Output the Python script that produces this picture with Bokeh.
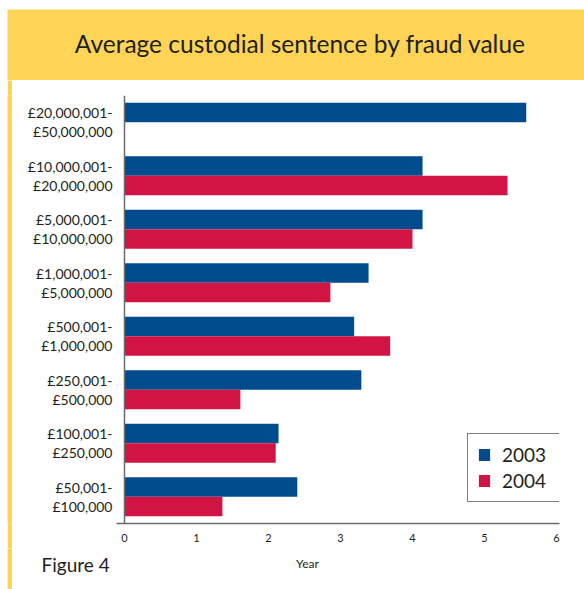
from bokeh.plotting import figure
from bokeh.layouts import column, row
from bokeh.models import (ColumnDataSource, FactorRange, FixedTicker, Range1d,
                          Span, Legend, Spacer)
from bokeh.core.properties import value
from bokeh.transform import dodge
from bokeh.embed import file_html
from bokeh.resources import INLINE

# ---- data ----
categories = [
    "£20,000,001-\n£50,000,000",
    "£10,000,001-\n£20,000,000",
    "£5,000,001-\n£10,000,000",
    "£1,000,001-\n£5,000,000",
    "£500,001-\n£1,000,000",
    "£250,001-\n£500,000",
    "£100,001-\n£250,000",
    "£50,001-\n£100,000",
]
years_2003 = [5.58, 4.14, 4.14, 3.39, 3.19, 3.29, 2.14, 2.40]
years_2004 = [float("nan"), 5.32, 4.00, 2.86, 3.69, 1.61, 2.10, 1.36]
x_ticks = [0, 1, 2, 3, 4, 5, 6]
series_names = ["2003", "2004"]
title_text = "Average custodial sentence by fraud value"
figure_text = "Figure 4"
x_title = "Year"

BLUE = "#024B8C"
RED = "#D21445"
YELLOW = "#FED457"
TEXT = "#231F20"
FONT = "Lato"

W, H = 584, 589
HEADER_H = 80
FOOTER_H = 41
BODY_H = H - HEADER_H - FOOTER_H
GAP_W = 7
STRIP_W = 5
LEFT = GAP_W + STRIP_W


def blank(width, height, xr, yr, fill="white"):
    f = figure(width=width, height=height, x_range=Range1d(*xr), y_range=Range1d(*yr),
               x_axis_type=None, y_axis_type=None, output_backend="svg",
               toolbar_location=None, min_border=0)
    f.outline_line_color = None
    f.background_fill_color = fill
    f.border_fill_color = fill
    return f


# ---- header band with title (pixel coordinates, y downwards) ----
header = blank(W, HEADER_H, (0, W), (HEADER_H, 0))
header.quad(left=7, right=W, top=9, bottom=HEADER_H, fill_color=YELLOW, line_color=None)
header.text(x=[300], y=[43], text=[title_text], text_font=value(FONT),
            text_font_size="24.5px", text_color=TEXT, text_align="center",
            text_baseline="alphabetic")

# ---- left strip (body part) ----
gap = Spacer(width=GAP_W, height=BODY_H)
strip = blank(STRIP_W, BODY_H, (0, 1), (0, 1), fill=YELLOW)

# ---- main chart ----
src = ColumnDataSource(dict(cat=categories, y2003=years_2003, y2004=years_2004))

p = figure(
    width=W - LEFT, height=BODY_H,
    y_range=FactorRange(factors=list(reversed(categories))),
    x_range=Range1d(-0.111, 6.042),
    output_backend="svg", toolbar_location=None,
    min_border_left=116 - LEFT, min_border_right=W - 559,
    min_border_top=95 - HEADER_H, min_border_bottom=(HEADER_H + BODY_H) - 523,
)
p.background_fill_color = "white"
p.border_fill_color = "white"
p.outline_line_color = None
p.xgrid.grid_line_color = None
p.ygrid.grid_line_color = None

bh = 0.364
r1 = p.hbar(y=dodge("cat", 0.182, range=p.y_range), right="y2003", left=0,
            height=bh, source=src, color=BLUE, line_color=None)
r2 = p.hbar(y=dodge("cat", -0.182, range=p.y_range), right="y2004", left=0,
            height=bh, source=src, color=RED, line_color=None)

yax = p.yaxis[0]
yax.axis_line_color = None
yax.major_tick_line_color = None
yax.minor_tick_line_color = None
yax.major_tick_out = 0
yax.major_label_standoff = 4
yax.major_label_text_font = FONT
yax.major_label_text_font_size = "14px"
yax.major_label_text_color = TEXT
yax.major_label_text_line_height = 1.1

p.add_layout(Span(location=0, dimension="height", line_color="#6B6B6B", line_width=1.5))

xax = p.xaxis[0]
xax.ticker = FixedTicker(ticks=x_ticks)
xax.axis_line_color = "#6B6B6B"
xax.axis_line_width = 1.5
xax.major_tick_line_color = None
xax.minor_tick_line_color = None
xax.major_tick_out = 0
xax.major_label_standoff = 10
xax.major_label_text_font = FONT
xax.major_label_text_font_size = "11px"
xax.major_label_text_color = TEXT

legend = Legend(items=[(series_names[0], [r1]), (series_names[1], [r2])],
                location=(351, 21))
legend.label_text_font = FONT
legend.label_text_font_size = "19px"
legend.label_text_color = TEXT
legend.glyph_width = 14
legend.glyph_height = 15
legend.label_height = 19
legend.label_width = 48
legend.label_standoff = 11
legend.padding = 9
legend.spacing = 3
legend.margin = 0
legend.border_line_color = "black"
legend.border_line_width = 1
legend.background_fill_color = "white"
legend.background_fill_alpha = 1
p.add_layout(legend)

# ---- footer: strip, axis title and figure caption (pixel coordinates, y downwards) ----
y0 = HEADER_H + BODY_H
fgap = Spacer(width=GAP_W, height=FOOTER_H)
fstrip = blank(STRIP_W, FOOTER_H, (0, 1), (0, 1), fill=YELLOW)
footer = blank(W - LEFT, FOOTER_H, (LEFT, W), (H, y0))
footer.text(x=[307], y=[563], text=[x_title], text_font=value(FONT),
            text_font_size="12px", text_color=TEXT, text_align="center",
            text_baseline="middle")
footer.text(x=[41], y=[564], text=[figure_text], text_font=value(FONT),
            text_font_size="19px", text_color=TEXT, text_align="left",
            text_baseline="alphabetic")

layout = column(header,
                row(gap, strip, p, spacing=0),
                row(fgap, fstrip, footer, spacing=0),
                spacing=0)
open("out.html", "w").write(file_html(layout, INLINE))
